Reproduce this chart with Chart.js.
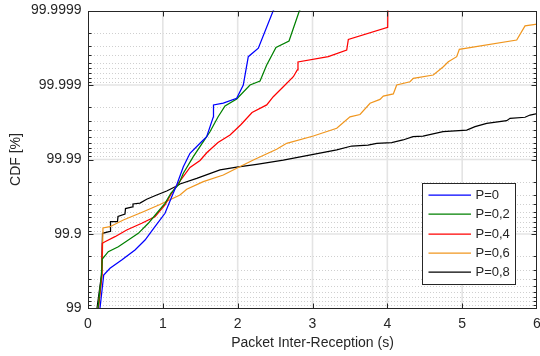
<!DOCTYPE html>
<html>
<head>
<meta charset="utf-8">
<script src="https://cdn.jsdelivr.net/npm/chart.js@4.4.0/dist/chart.umd.min.js"></script>
<style>
  html, body { margin: 0; padding: 0; background: #fff; }
</style>
</head>
<body>
<canvas id="cdf" width="540" height="356"></canvas>
<script>
// Series (x = packet inter-reception in s, y = CDF in %)
const seriesLabels = ['P=0', 'P=0,2', 'P=0,4', 'P=0,6', 'P=0,8'];
const seriesColors = ['#0000ff', '#008000', '#ff0000', '#f0961e', '#000000'];

const x0   = [0.16, 0.21, 0.294, 0.45, 0.628, 0.762, 0.895, 1.029, 1.119, 1.185, 1.274, 1.363, 1.497, 1.586, 1.675, 1.677, 1.808, 1.987, 2.075, 2.142, 2.276, 2.476, 2.48];
const cdf0 = [99, 99.645, 99.7114, 99.7766, 99.836, 99.8795, 99.9202, 99.9473, 99.9684, 99.978, 99.9875, 99.99174, 99.99394, 99.99506, 99.99733, 99.99815, 99.99825, 99.99849, 99.999, 99.999583, 99.999679, 99.9999, 99.99999];

const x2   = [0.134, 0.18, 0.191, 0.271, 0.405, 0.539, 0.672, 0.806, 0.918, 1.029, 1.109, 1.207, 1.274, 1.407, 1.541, 1.63, 1.737, 1.831, 1.987, 2.165, 2.299, 2.388, 2.512, 2.686, 2.826, 2.83];
const cdf2 = [99, 99.645, 99.7833, 99.8271, 99.852, 99.8795, 99.902, 99.9282, 99.9473, 99.9613, 99.9718, 99.978, 99.9847, 99.99083, 99.99423, 99.99576, 99.99731, 99.99809, 99.99846, 99.999, 99.999117, 99.99946, 99.999686, 99.999743, 99.9999, 99.99999];

const x4   = [0.14, 0.187, 0.191, 0.227, 0.361, 0.517, 0.718, 0.895, 1.029, 1.096, 1.189, 1.363, 1.497, 1.59, 1.737, 1.898, 2.045, 2.192, 2.388, 2.476, 2.61, 2.744, 2.797, 2.806, 3.211, 3.457, 3.479, 4.005, 4.013];
const cdf4 = [99, 99.645, 99.8666, 99.8732, 99.8914, 99.9116, 99.9282, 99.9414, 99.9592, 99.9691, 99.978, 99.9872, 99.98969, 99.99195, 99.99408, 99.99531, 99.99661, 99.99766, 99.99815, 99.998565, 99.998946, 99.999226, 99.999371, 99.999509, 99.999583, 99.999661, 99.999756, 99.999832, 99.99999];

const x6   = [0.134, 0.187, 0.2, 0.294, 0.472, 0.739, 0.962, 1.229, 1.319, 1.541, 1.808, 1.987, 2.209, 2.521, 2.655, 3.011, 3.324, 3.501, 3.635, 3.769, 3.902, 3.946, 4.08, 4.125, 4.303, 4.347, 4.614, 4.748, 4.815, 4.927, 4.962, 5.729, 5.84, 6.007];
const cdf6 = [99, 99.645, 99.917, 99.9202, 99.9351, 99.9498, 99.9598, 99.97, 99.9749, 99.98014, 99.98385, 99.98688, 99.98984, 99.9927, 99.99394, 99.99516, 99.99619, 99.99733, 99.99751, 99.99824, 99.99844, 99.99859, 99.99868, 99.999, 99.999096, 99.999187, 99.999266, 99.999432, 99.999513, 99.999583, 99.999668, 99.999751, 99.999839, 99.999848];

const x8   = [0.12, 0.18, 0.194, 0.294, 0.301, 0.394, 0.401, 0.494, 0.501, 0.595, 0.601, 0.695, 0.784, 0.918, 1.052, 1.185, 1.229, 1.453, 1.764, 1.987, 2.254, 2.61, 3.011, 3.324, 3.524, 3.742, 3.858, 4.058, 4.209, 4.343, 4.477, 4.744, 5.061, 5.172, 5.328, 5.595, 5.64, 5.84, 5.907, 6.007];
const cdf8 = [99, 99.645, 99.902, 99.9075, 99.932, 99.932, 99.942, 99.946, 99.9545, 99.9566, 99.9605, 99.9616, 99.9658, 99.97, 99.9735, 99.9773, 99.9787, 99.9821, 99.9862, 99.9873, 99.9884, 99.9898, 99.99149, 99.99255, 99.99341, 99.99361, 99.99394, 99.99405, 99.99453, 99.99506, 99.99516, 99.99576, 99.99598, 99.99637, 99.99673, 99.99699, 99.9972, 99.99729, 99.99747, 99.99759];

const xSeries = [x0, x2, x4, x6, x8];
const cdfSeries = [cdf0, cdf2, cdf4, cdf6, cdf8];

// Axis ticks
const xTicks = [0, 1, 2, 3, 4, 5, 6];
const yTickLabels = ['99', '99.9', '99.99', '99.999', '99.9999'];
// y axis is plotted as the tail 100 - CDF on a reversed log scale
const yTickTails = [1, 0.1, 0.01, 0.001, 0.0001];

const FONT = '"Liberation Sans", Arial, Helvetica, sans-serif';
const INK = '#262626';
const LW = 1.25;

// minor (dotted) grid positions: 2..9 x each decade
const minorTails = [];
yTickTails.slice(0, 4).forEach(d => { for (let m = 2; m <= 9; m++) minorTails.push(m * d / 10); });

function line(ctx, x1, y1, x2, y2) { ctx.beginPath(); ctx.moveTo(x1, y1); ctx.lineTo(x2, y2); ctx.stroke(); }

const matlabAxes = {
  id: 'matlabAxes',
  beforeDatasetsDraw(chart) {
    const { ctx, chartArea: a, scales: { x, y } } = chart;
    ctx.save();
    ctx.lineWidth = 1;
    ctx.strokeStyle = '#cfcfcf';
    ctx.setLineDash([1, 2]);
    minorTails.forEach(v => { const py = Math.round(y.getPixelForValue(v)) + 0.5; line(ctx, a.left, py, a.right, py); });
    ctx.setLineDash([]);
    ctx.strokeStyle = '#e4e4e4';
    ctx.lineWidth = 1.6;
    xTicks.slice(1, -1).forEach(v => { const px = x.getPixelForValue(v); line(ctx, px, a.top, px, a.bottom); });
    yTickTails.slice(1, -1).forEach(v => { const py = y.getPixelForValue(v); line(ctx, a.left, py, a.right, py); });
    ctx.restore();
  },
  afterDatasetsDraw(chart) {
    const { ctx, chartArea: a, scales: { x, y } } = chart;
    ctx.save();
    ctx.strokeStyle = INK;
    ctx.lineWidth = 1;
    const L = Math.round(a.left) + 0.5, R = Math.round(a.right) - 0.5;
    const T = Math.round(a.top) + 0.5, B = Math.round(a.bottom) - 0.5;
    ctx.strokeRect(L, T, R - L, B - T);
    xTicks.slice(1, -1).forEach(v => {
      const px = Math.round(x.getPixelForValue(v)) + 0.5;
      line(ctx, px, B, px, B - 5); line(ctx, px, T, px, T + 5);
    });
    yTickTails.slice(1, -1).forEach(v => {
      const py = Math.round(y.getPixelForValue(v)) + 0.5;
      line(ctx, L, py, L + 5, py); line(ctx, R, py, R - 5, py);
    });
    minorTails.forEach(v => {
      const py = Math.round(y.getPixelForValue(v)) + 0.5;
      line(ctx, L, py, L + 3, py); line(ctx, R, py, R - 3, py);
    });
    ctx.restore();
  },
  afterDraw(chart) {
    const { ctx, chartArea: a } = chart;
    const bw = 93, bh = 101;
    const bx = Math.round(a.right - 22 - bw) + 0.5, by = Math.round(a.top + 172) + 0.5;
    ctx.save();
    ctx.fillStyle = '#fff';
    ctx.fillRect(bx, by, bw, bh);
    ctx.strokeStyle = INK;
    ctx.lineWidth = 1;
    ctx.strokeRect(bx, by, bw, bh);
    ctx.font = '13px ' + FONT;
    ctx.textBaseline = 'middle';
    ctx.textAlign = 'left';
    seriesLabels.forEach((lab, i) => {
      const yy = Math.round(by + 11.5 + i * 19.25);
      ctx.strokeStyle = seriesColors[i];
      ctx.lineWidth = LW;
      line(ctx, bx + 6, yy, bx + 48.5, yy);
      ctx.fillStyle = INK;
      ctx.fillText(lab, bx + 53, yy + 0.5);
    });
    ctx.restore();
  }
};

const datasets = seriesLabels.map((lab, i) => ({
  label: lab,
  data: xSeries[i].map((xv, j) => ({ x: xv, y: 100 - cdfSeries[i][j] })),
  borderColor: seriesColors[i],
  borderWidth: LW,
  pointRadius: 0,
  tension: 0,
  fill: false
}));

new Chart(document.getElementById('cdf'), {
  type: 'line',
  data: { datasets },
  plugins: [matlabAxes],
  options: {
    responsive: false,
    devicePixelRatio: 1,
    animation: false,
    layout: { padding: { top: 10.5, right: 3, left: 0, bottom: 0 } },
    plugins: { legend: { display: false }, tooltip: { enabled: false } },
    scales: {
      x: {
        type: 'linear', min: 0, max: 6,
        afterBuildTicks: s => { s.ticks = xTicks.map(v => ({ value: v })); },
        afterFit: s => { s.height = 47.5; s.paddingLeft = 0; s.paddingRight = 0; },
        grid: { display: false, drawTicks: false },
        border: { display: false },
        ticks: { padding: 7, color: INK, font: { family: FONT, size: 14 }, maxRotation: 0 },
        title: { display: true, text: 'Packet Inter-Reception (s)', color: INK, font: { family: FONT, size: 14 }, padding: { top: 0, bottom: 4 } }
      },
      y: {
        type: 'logarithmic', reverse: true, min: 0.0001, max: 1,
        afterBuildTicks: s => { s.ticks = yTickTails.map(v => ({ value: v })); },
        afterFit: s => { s.width = 88; s.paddingTop = 0; s.paddingBottom = 0; },
        grid: { display: false, drawTicks: false },
        border: { display: false },
        ticks: {
          padding: 6.5, color: INK, font: { family: FONT, size: 14 },
          callback: v => yTickLabels[yTickTails.indexOf(v)]
        },
        title: { display: true, text: 'CDF [%]', color: INK, font: { family: FONT, size: 14 }, padding: { top: 7.5, bottom: 0 } }
      }
    }
  }
});
</script>
</body>
</html>
